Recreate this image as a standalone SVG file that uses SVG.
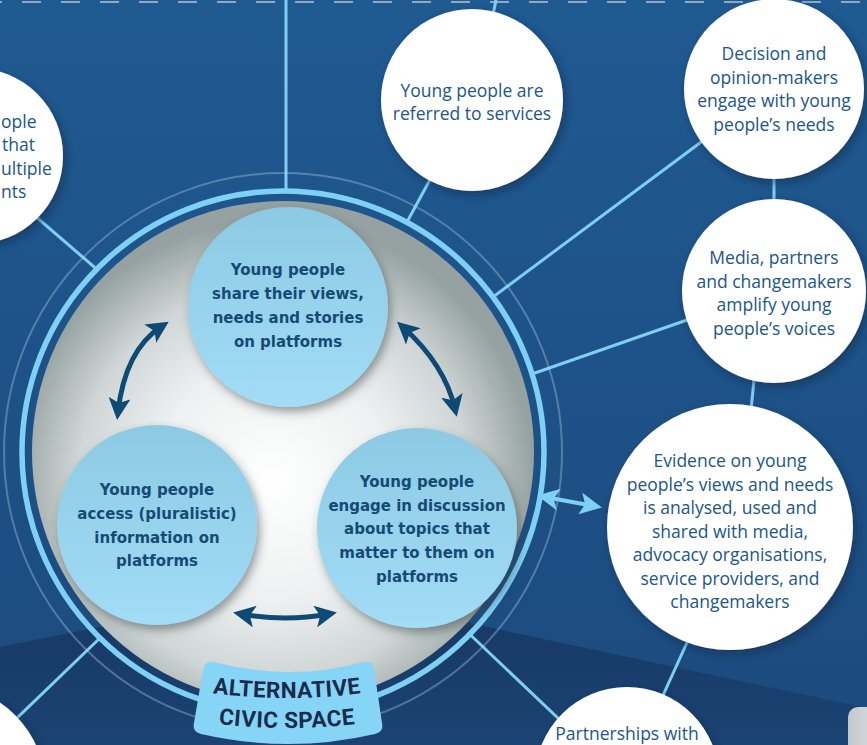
<svg xmlns="http://www.w3.org/2000/svg" width="867" height="745" viewBox="0 0 867 745">
  <defs>
    <style>
      .link { fill: none; stroke: #7fcff3; stroke-width: 3; }
      .wnode { fill: #ffffff; filter: url(#shadowWhite); }
      .bubble { fill: url(#bubbleFill); filter: url(#shadowBubble); }
      .wt { font-family: "Open Sans", "Liberation Sans", sans-serif; font-size: 17.5px; fill: #21568a; text-anchor: middle; }
      .wt-start { text-anchor: start; }
      .bt { font-family: "DejaVu Sans", "Liberation Sans", sans-serif; font-weight: bold; font-size: 15px; fill: #164a74; text-anchor: middle; }
      .lbl { font-family: Roboto, "Liberation Sans", sans-serif; font-weight: 700; font-size: 22.5px; fill: #1b2b4b; letter-spacing: 0.5px; }
      .cycle { fill: none; stroke: #0e4a74; stroke-width: 5; marker-start: url(#headDark); marker-end: url(#headDark); }
      .bridge { fill: none; stroke: #7fd0f5; stroke-width: 4; marker-start: url(#headLight); marker-end: url(#headLight); }
    </style>
    <linearGradient id="bgFill" x1="0" y1="0" x2="0" y2="1">
      <stop offset="0" stop-color="#1f5a91"/>
      <stop offset="1" stop-color="#1c4a7e"/>
    </linearGradient>
    <linearGradient id="floorFill" gradientUnits="userSpaceOnUse" x1="0" y1="600" x2="0" y2="745">
      <stop offset="0" stop-color="#173864"/>
      <stop offset="1" stop-color="#1b4373"/>
    </linearGradient>
    <linearGradient id="panelFill" x1="0" y1="0" x2="1" y2="0">
      <stop offset="0" stop-color="#c3c8cd"/>
      <stop offset="1" stop-color="#e3e6e9"/>
    </linearGradient>
    <radialGradient id="diskFill" cx="0.48" cy="0.56" r="0.52">
      <stop offset="0" stop-color="#ffffff"/>
      <stop offset="0.45" stop-color="#eef1f1"/>
      <stop offset="0.75" stop-color="#cfd6d5"/>
      <stop offset="0.92" stop-color="#a8b3b1"/>
      <stop offset="1" stop-color="#95a2a1"/>
    </radialGradient>
    <linearGradient id="bubbleFill" x1="0" y1="0" x2="0" y2="1">
      <stop offset="0" stop-color="#8ccae4"/>
      <stop offset="1" stop-color="#a2dcf6"/>
    </linearGradient>
    <filter id="shadowWhite" x="-25%" y="-25%" width="160%" height="160%">
      <feDropShadow dx="3" dy="4" stdDeviation="4" flood-color="#0b2545" flood-opacity="0.55"/>
    </filter>
    <filter id="shadowBubble" x="-25%" y="-25%" width="160%" height="160%">
      <feDropShadow dx="3" dy="5" stdDeviation="5" flood-color="#34403f" flood-opacity="0.5"/>
    </filter>
    <marker id="headDark" viewBox="0 0 22 22" refX="14" refY="11" markerWidth="22" markerHeight="22" markerUnits="userSpaceOnUse" orient="auto-start-reverse">
      <path d="M0 0 L22 11 L0 22 L5 11 Z" fill="#0e4a74"/>
    </marker>
    <marker id="headLight" viewBox="0 0 22 22" refX="14" refY="11" markerWidth="22" markerHeight="22" markerUnits="userSpaceOnUse" orient="auto-start-reverse">
      <path d="M0 0 L22 11 L0 22 L5 11 Z" fill="#7fd0f5"/>
    </marker>
    <path id="arcTop" d="M 190 690 Q 287 706 384 690"/>
    <path id="arcBottom" d="M 190 720 Q 287 736 384 720"/>
  </defs>

  <!-- backdrop -->
  <rect x="0" y="0" width="867" height="745" fill="url(#bgFill)"/>
  <path d="M0 647 L300 587 L867 708 L867 745 L0 745 Z" fill="url(#floorFill)"/>
  <rect x="848" y="707" width="40" height="60" rx="10" fill="url(#panelFill)"/>
  <line x1="0" y1="2" x2="867" y2="2" stroke="#8ea8c6" stroke-width="2" stroke-dasharray="19 20" stroke-dashoffset="17"/>

  <!-- connectors between the outer nodes and the ring -->
  <g id="connectors">
    <line class="link" x1="286" y1="0" x2="286" y2="192"/>
    <line class="link" x1="496" y1="0" x2="488" y2="40"/>
    <line class="link" x1="440.7" y1="160" x2="407" y2="222"/>
    <line class="link" x1="720" y1="128" x2="493" y2="297"/>
    <line class="link" x1="774" y1="150" x2="774" y2="230"/>
    <line class="link" x1="710" y1="312" x2="532" y2="374"/>
    <line class="link" x1="756" y1="360" x2="750" y2="420"/>
    <line class="link" x1="695" y1="625" x2="655" y2="713"/>
    <line class="link" x1="470" y1="634.5" x2="580" y2="739"/>
    <line class="link" x1="100" y1="638" x2="-10" y2="744"/>
    <line class="link" x1="20" y1="203" x2="96.5" y2="269"/>
  </g>

  <!-- alternative civic space: rings and disk -->
  <g id="civic-space">
    <circle cx="283" cy="452" r="279" fill="none" stroke="#b9d3ec" stroke-opacity="0.35" stroke-width="2"/>
    <circle cx="283" cy="452" r="261" fill="none" stroke="#7fd0f5" stroke-width="5.5"/>
    <circle cx="283" cy="452" r="251" fill="url(#diskFill)"/>
  </g>

  <!-- outer nodes -->
  <g id="node-left">
    <circle class="wnode" cx="-25" cy="156" r="88"/>
    <text class="wt wt-start" x="1" y="128">ople</text>
    <text class="wt wt-start" x="2" y="151">that</text>
    <text class="wt wt-start" x="1" y="175">ultiple</text>
    <text class="wt wt-start" x="1" y="198">nts</text>
  </g>
  <g id="node-referred">
    <circle class="wnode" cx="472" cy="100" r="91"/>
    <text class="wt" x="472" y="96.5">Young people are</text>
    <text class="wt" x="472" y="119.5">referred to services</text>
  </g>
  <g id="node-decision">
    <circle class="wnode" cx="774" cy="89" r="90"/>
    <text class="wt" x="774" y="60">Decision and</text>
    <text class="wt" x="774" y="83.5">opinion-makers</text>
    <text class="wt" x="774" y="107">engage with young</text>
    <text class="wt" x="774" y="130.5">people’s needs</text>
  </g>
  <g id="node-media">
    <circle class="wnode" cx="774" cy="291" r="92"/>
    <text class="wt" x="774" y="264">Media, partners</text>
    <text class="wt" x="774" y="287.5">and changemakers</text>
    <text class="wt" x="774" y="311">amplify young</text>
    <text class="wt" x="774" y="334.5">people’s voices</text>
  </g>
  <g id="node-evidence">
    <circle class="wnode" cx="730" cy="527" r="123"/>
    <text class="wt" x="730" y="467">Evidence on young</text>
    <text class="wt" x="730" y="490.5">people’s views and needs</text>
    <text class="wt" x="730" y="514">is analysed, used and</text>
    <text class="wt" x="730" y="537.5">shared with media,</text>
    <text class="wt" x="730" y="561">advocacy organisations,</text>
    <text class="wt" x="730" y="584.5">service providers, and</text>
    <text class="wt" x="730" y="608">changemakers</text>
  </g>
  <g id="node-partnerships">
    <circle class="wnode" cx="627" cy="779" r="92"/>
    <text class="wt" x="627" y="740">Partnerships with</text>
  </g>
  <g id="node-bottom-left">
    <circle class="wnode" cx="-60" cy="790" r="106"/>
  </g>

  <!-- the three platform activities -->
  <g id="node-share">
    <circle class="bubble" cx="288" cy="307" r="100"/>
    <text class="bt" x="288" y="275">Young people</text>
    <text class="bt" x="288" y="299">share their views,</text>
    <text class="bt" x="288" y="323">needs and stories</text>
    <text class="bt" x="288" y="347">on platforms</text>
  </g>
  <g id="node-access">
    <circle class="bubble" cx="157" cy="525" r="100"/>
    <text class="bt" x="157" y="495">Young people</text>
    <text class="bt" x="157" y="519">access (pluralistic)</text>
    <text class="bt" x="157" y="543">information on</text>
    <text class="bt" x="157" y="566">platforms</text>
  </g>
  <g id="node-discuss">
    <circle class="bubble" cx="417" cy="528" r="100"/>
    <text class="bt" x="417" y="487">Young people</text>
    <text class="bt" x="417" y="510.5">engage in discussion</text>
    <text class="bt" x="417" y="534">about topics that</text>
    <text class="bt" x="417" y="558">matter to them on</text>
    <text class="bt" x="417" y="582">platforms</text>
  </g>

  <!-- two-way links inside and out of the civic space -->
  <g id="cycle-connectors">
    <path class="cycle" d="M 118 412 Q 125 350 162 326"/>
    <path class="cycle" d="M 403 327 Q 445 365 455 409"/>
    <path class="cycle" d="M 241 614 Q 285 622 329 614"/>
    <path class="bridge" d="M 545 497 L 594 506"/>
  </g>

  <!-- civic space badge -->
  <g id="label-civic-space">
    <path d="M 214 662 Q 289 682 364 662 Q 373 660 374 669 L 382 723 Q 384 732 375 734 Q 289 754 201 734 Q 192 732 194 723 L 203 670 Q 205 660 214 662 Z" fill="#86d5f7"/>
    <text class="lbl"><textPath href="#arcTop" startOffset="50%" text-anchor="middle">ALTERNATIVE</textPath></text>
    <text class="lbl"><textPath href="#arcBottom" startOffset="50%" text-anchor="middle">CIVIC SPACE</textPath></text>
  </g>
</svg>
